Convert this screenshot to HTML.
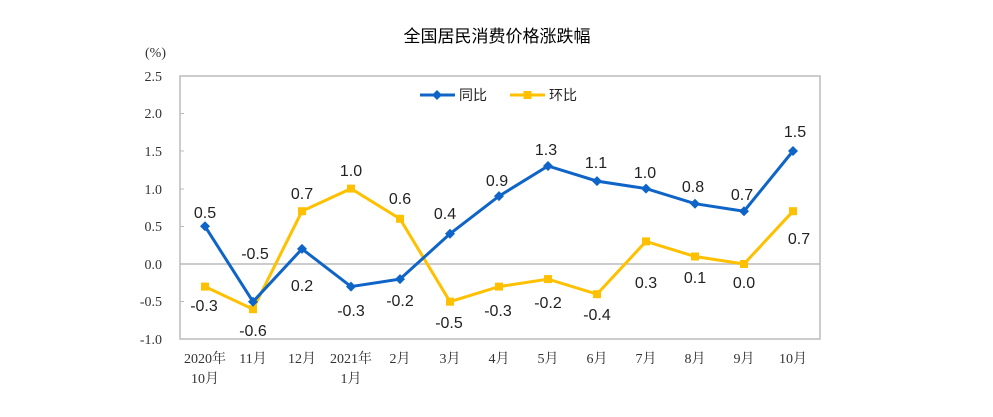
<!DOCTYPE html>
<html><head><meta charset="utf-8"><style>
html,body{margin:0;padding:0;background:#fff;}
svg{display:block;}
</style></head><body>
<svg width="993" height="417" viewBox="0 0 993 417" xmlns="http://www.w3.org/2000/svg">
<rect width="993" height="417" fill="#fff"/>
<text x="497" y="42" text-anchor="middle" font-family="Liberation Sans, Noto Sans CJK SC, sans-serif" font-size="17" fill="#000">全国居民消费价格涨跌幅</text>
<g font-family="Liberation Serif, serif" font-size="14" fill="#333" text-anchor="end">
<text x="166" y="57">(%)</text>
<text x="162" y="81">2.5</text>
<text x="162" y="118">2.0</text>
<text x="162" y="156">1.5</text>
<text x="162" y="194">1.0</text>
<text x="162" y="231">0.5</text>
<text x="162" y="269">0.0</text>
<text x="162" y="306">-0.5</text>
<text x="162" y="344">-1.0</text>
</g>
<rect x="180" y="76" width="640" height="263" fill="none" stroke="#bbb" stroke-width="1.5"/>
<line x1="180" y1="264" x2="820" y2="264" stroke="#bbb" stroke-width="1.5"/>
<g stroke="#bbb">
<line x1="180" y1="113.5" x2="184" y2="113.5"/><line x1="180" y1="151" x2="184" y2="151"/><line x1="180" y1="189" x2="184" y2="189"/><line x1="180" y1="226.5" x2="184" y2="226.5"/><line x1="180" y1="301.5" x2="184" y2="301.5"/>
</g>
<polyline fill="none" stroke="#FFC000" stroke-width="3" points="205,286.6 253,309.2 302,211.2 351,188.6 400,218.8 450,301.7 499,286.6 548,279.1 597,294.2 646,241.4 695,256.5 744,264 793,211.2"/>
<g fill="#FFC000">
<rect x="201" y="282.6" width="8" height="8"/><rect x="249" y="305.2" width="8" height="8"/><rect x="298" y="207.2" width="8" height="8"/><rect x="347" y="184.6" width="8" height="8"/><rect x="396" y="214.8" width="8" height="8"/><rect x="446" y="297.7" width="8" height="8"/><rect x="495" y="282.6" width="8" height="8"/><rect x="544" y="275.1" width="8" height="8"/><rect x="593" y="290.2" width="8" height="8"/><rect x="642" y="237.4" width="8" height="8"/><rect x="691" y="252.5" width="8" height="8"/><rect x="740" y="260" width="8" height="8"/><rect x="789" y="207.2" width="8" height="8"/>
</g>
<polyline fill="none" stroke="#0F64C8" stroke-width="3" points="205,226.3 253,301.7 302,248.9 351,286.6 400,279.1 450,233.8 499,196.1 548,166 597,181.1 646,188.6 695,203.7 744,211.2 793,151"/>
<g fill="#0F64C8">
<path d="M205,221.3l5,5l-5,5l-5,-5z"/><path d="M253,296.7l5,5l-5,5l-5,-5z"/><path d="M302,243.9l5,5l-5,5l-5,-5z"/><path d="M351,281.6l5,5l-5,5l-5,-5z"/><path d="M400,274.1l5,5l-5,5l-5,-5z"/><path d="M450,228.8l5,5l-5,5l-5,-5z"/><path d="M499,191.1l5,5l-5,5l-5,-5z"/><path d="M548,161l5,5l-5,5l-5,-5z"/><path d="M597,176.1l5,5l-5,5l-5,-5z"/><path d="M646,183.6l5,5l-5,5l-5,-5z"/><path d="M695,198.7l5,5l-5,5l-5,-5z"/><path d="M744,206.2l5,5l-5,5l-5,-5z"/><path d="M793,146l5,5l-5,5l-5,-5z"/>
</g>
<line x1="420" y1="95" x2="455" y2="95" stroke="#0F64C8" stroke-width="3"/><path d="M437,90l5,5l-5,5l-5,-5z" fill="#0F64C8"/>
<line x1="510" y1="95" x2="545" y2="95" stroke="#FFC000" stroke-width="3"/><rect x="523.5" y="91" width="8" height="8" fill="#FFC000"/>
<g font-family="Liberation Sans, Noto Sans CJK SC, sans-serif" font-size="14" fill="#222">
<text x="459" y="100">同比</text><text x="549" y="100">环比</text>
</g>
<g font-family="Liberation Sans, sans-serif" font-size="16" fill="#222" text-anchor="middle">
<text x="205" y="218">0.5</text><text x="255" y="259">-0.5</text><text x="302" y="291">0.2</text><text x="351" y="316">-0.3</text><text x="400" y="306">-0.2</text><text x="445" y="219">0.4</text><text x="497" y="186">0.9</text><text x="546" y="155">1.3</text><text x="596" y="168">1.1</text><text x="645" y="178">1.0</text><text x="693" y="192">0.8</text><text x="742" y="200">0.7</text><text x="795" y="137">1.5</text>
<text x="204" y="311">-0.3</text><text x="253" y="336">-0.6</text><text x="302" y="199">0.7</text><text x="351" y="176">1.0</text><text x="400" y="204">0.6</text><text x="449" y="328">-0.5</text><text x="498" y="316">-0.3</text><text x="548" y="308">-0.2</text><text x="597" y="320">-0.4</text><text x="646" y="288">0.3</text><text x="695" y="283">0.1</text><text x="744" y="288">0.0</text><text x="799" y="244">0.7</text>
</g>
<g font-family="Liberation Serif, Noto Serif CJK SC, serif" font-size="14" fill="#333" text-anchor="middle">
<text x="205" y="363">2020年</text><text x="205" y="383">10月</text>
<text x="253" y="363">11月</text><text x="302" y="363">12月</text>
<text x="351" y="363">2021年</text><text x="351" y="383">1月</text>
<text x="400" y="363">2月</text><text x="450" y="363">3月</text><text x="499" y="363">4月</text><text x="548" y="363">5月</text><text x="597" y="363">6月</text><text x="646" y="363">7月</text><text x="695" y="363">8月</text><text x="744" y="363">9月</text><text x="793" y="363">10月</text>
</g>
</svg>
</body></html>
